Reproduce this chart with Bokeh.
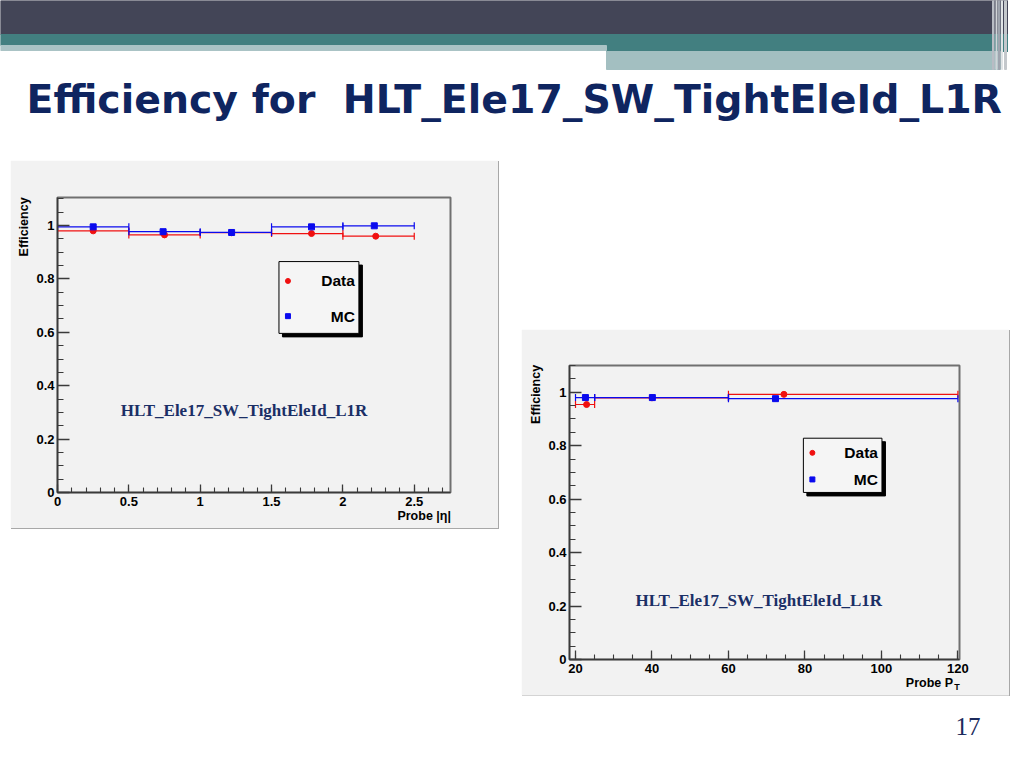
import numpy as np
from bokeh.plotting import figure
from bokeh.models import (Range1d, FixedTicker, CustomJSTickFormatter, Whisker,
                          TeeHead, ColumnDataSource, Label, Spacer, LinearAxis)
from bokeh.layouts import row, column
from bokeh.embed import file_html
from bokeh.resources import INLINE
from bokeh.core.properties import value

# ---------------- data ----------------
eta_bin_lo = [0.0, 0.5, 1.0, 1.5, 2.0]
eta_bin_hi = [0.5, 1.0, 1.5, 2.0, 2.5]
eta_data_x = [0.25, 0.75, 1.22, 1.78, 2.23]
eta_data_eff = [0.980, 0.965, 0.973, 0.970, 0.960]
eta_mc_x = [0.25, 0.74, 1.22, 1.78, 2.22]
eta_mc_eff = [0.995, 0.977, 0.974, 0.995, 0.999]

pt_bin_lo = [20, 25, 60]
pt_bin_hi = [25, 60, 120]
pt_data_x = [22.9, 40.0, 74.5]
pt_data_eff = [0.954, 0.979, 0.992]
pt_mc_x = [22.6, 40.1, 72.3]
pt_mc_eff = [0.980, 0.980, 0.976]

eff_ticks = [0, 0.2, 0.4, 0.6, 0.8, 1]
eta_ticks = [0, 0.5, 1, 1.5, 2, 2.5]
pt_ticks = [20, 40, 60, 80, 100, 120]
series_names = ["Data", "MC"]
series_colors = ["#f01010", "#0a0aee"]
y_title = "Efficiency"
eta_title = "Probe |\u03b7|"
pt_title = "Probe P"
pt_title_sub = "T"
trigger_name = "HLT_Ele17_SW_TightEleId_L1R"
slide_title = "Efficiency for\u00a0 HLT_Ele17_SW_TightEleId_L1R"
slide_number = "17"

CANVAS = "#f2f2f2"
NAVY_SMALL = "#1b2f66"
FONT = "Liberation Sans"
NBSP = "\u00a0"


def minor(start, stop, step):
    return [round(v, 4) for v in np.arange(start, stop + step / 2, step)]


def make_chart(width, height, borders, xr, yr, xticks, xminor, xtick_len,
               bins_lo, bins_hi, dx, dy, mx, my, xlabel, xpad, ypad, xlabel_sub, subpad,
               title_pos, legend_frac):
    bl, br, bt, bb = borders
    p = figure(width=width, height=height, x_range=Range1d(*xr), y_range=Range1d(*yr),
               output_backend="svg", toolbar_location=None,
               min_border_left=bl, min_border_right=br, min_border_top=bt,
               min_border_bottom=bb)
    p.styles = {"box-shadow": "1px 1px 0px #a8a8a8"}
    p.background_fill_color = CANVAS
    p.border_fill_color = CANVAS
    p.grid.visible = False
    p.outline_line_color = "#707070"
    p.outline_line_width = 2

    fmt = CustomJSTickFormatter(code="return String(tick)")
    p.xaxis.ticker = FixedTicker(ticks=xticks, minor_ticks=xminor)
    p.yaxis.ticker = FixedTicker(ticks=eff_ticks, minor_ticks=minor(0, 1.1, 0.05))
    p.xaxis.formatter = fmt
    p.yaxis.formatter = fmt
    for ax in (p.xaxis[0], p.yaxis[0]):
        ax.axis_line_color = "#3a3a3a"
        ax.axis_line_width = 1.5
        ax.major_tick_line_color = "#3a3a3a"
        ax.minor_tick_line_color = "#3a3a3a"
        ax.major_tick_line_width = 1.3
        ax.minor_tick_line_width = 1.1
        ax.major_tick_out = 0
        ax.minor_tick_out = 0
        ax.major_label_text_font = FONT
        ax.major_label_text_font_style = "bold"
        ax.major_label_text_font_size = "13px"
        ax.major_label_text_color = "black"
        ax.axis_label_text_font = FONT
        ax.axis_label_text_font_style = "bold"
        ax.axis_label_text_color = "black"
    p.yaxis.major_tick_in = 12
    p.yaxis.minor_tick_in = 6
    p.yaxis.major_label_standoff = 3
    # centred titles padded on the leading side so the words sit at the axis end (ROOT style)
    p.yaxis.axis_label = NBSP * ypad + y_title
    p.yaxis.axis_label_text_font_size = "12.5px"
    p.yaxis.axis_label_standoff = 2
    p.xaxis.major_tick_in = xtick_len
    p.xaxis.minor_tick_in = 5
    p.xaxis.major_label_standoff = 4
    p.xaxis.axis_label = NBSP * xpad + xlabel
    p.xaxis.axis_label_text_font_size = "12.5px"
    p.xaxis.axis_label_standoff = 0

    if xlabel_sub:
        sub = LinearAxis(axis_label=NBSP * subpad + xlabel_sub, ticker=FixedTicker(ticks=[]),
                         axis_label_standoff=-11,
                         axis_line_color=None, major_tick_line_color=None,
                         minor_tick_line_color=None, major_label_text_font_size="0px",
                         axis_label_text_font=FONT, axis_label_text_font_style="bold",
                         axis_label_text_font_size="9px", axis_label_text_color="black")
        p.add_layout(sub, "below")

    xspan = xr[1] - xr[0]
    yspan = yr[1] - yr[0]
    fw = width - bl - br
    fh = height - bt - bb
    ux = xspan / fw   # data per pixel
    uy = yspan / fh

    # error bars and markers
    markers = ["circle", "square"]
    sizes = [6, 6]
    for (xs, ys), name, col, mk, sz in zip([(dx, dy), (mx, my)], series_names,
                                           series_colors, markers, sizes):
        src = ColumnDataSource(dict(x=xs, y=ys, lo=bins_lo, hi=bins_hi))
        w = Whisker(source=src, base="y", lower="lo", upper="hi", dimension="width",
                    line_color=col, line_width=1.2,
                    upper_head=TeeHead(size=7, line_color=col, line_width=1.2),
                    lower_head=TeeHead(size=7, line_color=col, line_width=1.2))
        p.add_layout(w)
        p.scatter("x", "y", source=src, marker=mk, size=sz, color=col)

    # legend box (ROOT style, with shadow)
    lf, rf, tf, bf = legend_frac
    L = xr[0] + lf * xspan
    R = xr[0] + rf * xspan
    T = yr[0] + tf * yspan
    B = yr[0] + bf * yspan
    sh_x, sh_y = 3.5 * ux, 3.5 * uy
    p.quad(left=[L + sh_x], right=[R + sh_x], top=[T - sh_y], bottom=[B - sh_y],
           fill_color="black", line_color="black")
    p.quad(left=[L], right=[R], top=[T], bottom=[B], fill_color="#f5f5f5",
           line_color="black", line_width=1)
    ey = [T - (T - B) * 0.27, T - (T - B) * 0.76]
    p.scatter(x=[L + 9 * ux] * 2, y=ey, marker=["circle", "square"], size=5,
              color=series_colors)
    p.text(x=[R - 4 * ux] * 2, y=ey, text=series_names, text_font=value(FONT),
           text_font_style="bold", text_font_size="15.5px", text_align="right",
           text_baseline="middle", text_color="black")

    # trigger name inside the frame
    p.add_layout(Label(x=title_pos[0], y=title_pos[1], text=trigger_name,
                       text_font="Liberation Serif", text_font_style="bold",
                       text_font_size="17px", text_color=NAVY_SMALL,
                       text_baseline="middle", text_align="left"))
    return p


left = make_chart(488, 368, (47, 48, 37, 36), (0, 2.754), (0, 1.105),
                  eta_ticks, minor(0, 2.7, 0.1), 8,
                  eta_bin_lo, eta_bin_hi, eta_data_x, eta_data_eff, eta_mc_x, eta_mc_eff,
                  eta_title, 98, 68, None, 0, (0.443, 0.309),
                  (0.5635, 0.7669, 0.7828, 0.5394))

right = make_chart(488, 366, (48, 50, 36, 36), (18.43, 120.42), (0, 1.1),
                   pt_ticks, minor(20, 120, 5), 9,
                   pt_bin_lo, pt_bin_hi, pt_data_x, pt_data_eff, pt_mc_x, pt_mc_eff,
                   pt_title, 95, 68, pt_title_sub, 154, (35.7, 0.22),
                   (0.5997, 0.8012, 0.7527, 0.5682))

# ---------------- slide header ----------------
head = figure(width=1008, height=160, x_range=Range1d(0, 1008), y_range=Range1d(160, 0),
              output_backend="svg", toolbar_location=None, min_border=0)
head.axis.visible = False
head.grid.visible = False
head.outline_line_color = None
head.background_fill_color = "white"
head.border_fill_color = "white"
head.quad(left=[0, 0, 606, 0, 606], right=[1008, 1008, 1008, 606, 1000],
          top=[0, 34, 45, 45, 51], bottom=[34, 45, 51, 50, 69],
          color=["#434557", "#427f80", "#427f80", "#aac3c5", "#a3bfc1"])
head.quad(left=[992, 995.5, 998, 1001, 1004], right=[993.5, 996.5, 999.5, 1002, 1006],
          top=[0] * 5, bottom=[69] * 5,
          color=["#b8bcc4", "#d0d4d8", "#9ea4ae", "#e0e4e6", "#c4c8cc"])
head.text(x=[26], y=[98], text=[slide_title], text_font=value("DejaVu Sans"),
          text_font_style="bold", text_font_size="39.4px", text_color="#0f2560",
          text_baseline="alphabetic", text_align="left")

foot = figure(width=511, height=57, x_range=Range1d(0, 511), y_range=Range1d(57, 0),
              output_backend="svg", toolbar_location=None, min_border=0)
foot.axis.visible = False
foot.grid.visible = False
foot.outline_line_color = None
foot.background_fill_color = "white"
foot.border_fill_color = "white"
foot.text(x=[469.5], y=[31], text=[slide_number], text_font=value("Liberation Serif"),
          text_font_size="25px", text_color="#1c2a5c", text_align="center",
          text_baseline="middle")

left_col = column(Spacer(height=0, width=498),
                  row(Spacer(width=10, height=368), left),
                  Spacer(width=498, height=224))
right_col = column(Spacer(width=511, height=169),
                   row(Spacer(width=23, height=366), right),
                   foot)
page = column(head, row(left_col, right_col))

open("out.html", "w").write(file_html(page, INLINE))
